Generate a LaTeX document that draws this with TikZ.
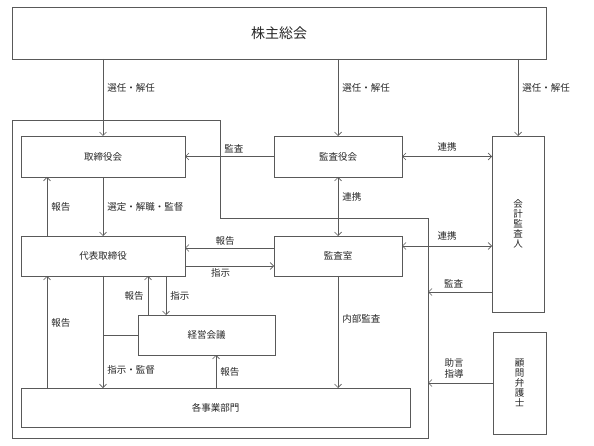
\documentclass[tikz,border=0pt]{standalone}
\usepackage{fontspec}
\setmainfont{Noto Sans CJK JP}
\usetikzlibrary{arrows.meta}

\tikzset{
    box/.style={draw=black!65, line width=0.7pt, rectangle, inner sep=0pt, outer sep=0pt,
        text=black!85, font=\fontsize{9.5}{11}\selectfont},
    link/.style={draw=black!65, line width=0.7pt},
    arr/.style={link, -{Straight Barb[length=3.5pt,width=7pt]}},
    both/.style={link, {Straight Barb[length=3.5pt,width=7pt]}-{Straight Barb[length=3.5pt,width=7pt]}},
    lbl/.style={text=black!85, font=\fontsize{9.5}{11}\selectfont, inner sep=1pt}
}

\begin{document}
\begin{tikzpicture}[x=1pt, y=-1pt]
    \useasboundingbox (0,0) rectangle (594,446);

    % draw company frame
    \draw[link] (12,120) -- (220,120) -- (220,218) -- (428,218) -- (428,438) -- (12,438) -- cycle;
    \coordinate (frameA) at (428,292);
    \coordinate (frameB) at (428,383);

    % draw boxes
    \node[box, minimum width=534pt, minimum height=52pt, font=\fontsize{14}{16}\selectfont] (kabu) at (279,33) {株主総会};
    \node[box, minimum width=164pt, minimum height=41pt] (tori) at (103,156.5) {取締役会};
    \node[box, minimum width=128pt, minimum height=41pt] (kansayaku) at (338,156.5) {監査役会};
    \node[box, minimum width=52pt, minimum height=176pt, align=center, font=\fontsize{9.5}{10}\selectfont] (kaikei) at (518,224) {会\\計\\監\\査\\人};
    \node[box, minimum width=164pt, minimum height=40pt] (daihyo) at (103,256) {代表取締役};
    \node[box, minimum width=128pt, minimum height=40pt] (kansashitsu) at (338,256) {監査室};
    \node[box, minimum width=137pt, minimum height=40pt] (keiei) at (206.5,335) {経営会議};
    \node[box, minimum width=389pt, minimum height=39pt] (jigyo) at (215.5,407.5) {各事業部門};
    \node[box, minimum width=53pt, minimum height=102pt, align=center, font=\fontsize{9.5}{10}\selectfont] (komon) at (519.5,383) {顧\\問\\弁\\護\\士};

    % draw arrows from the top
    \draw[arr] (kabu.south -| tori.north) -- (tori.north) node[lbl, right=3pt, pos=0.38] {選任・解任};
    \draw[arr] (kabu.south -| kansayaku.north) -- (kansayaku.north) node[lbl, right=3pt, pos=0.38] {選任・解任};
    \draw[arr] (kabu.south -| kaikei.north) -- (kaikei.north) node[lbl, right=3pt, pos=0.38] {選任・解任};

    % draw audit links
    \draw[arr] (kansayaku.west) -- (tori.east) node[lbl, above=2pt, pos=0.45] {監査};
    \draw[both] (kansayaku.east) -- (kansayaku.east -| kaikei.west) node[lbl, above=4pt, midway] {連携};
    \draw[both] (kansayaku.south) -- (kansashitsu.north) node[lbl, right=3pt, pos=0.34] {連携};
    \draw[both] ([yshift=-10pt]kansashitsu.north east) -- ([yshift=-10pt]kansashitsu.north east -| kaikei.west) node[lbl, above=4pt, midway] {連携};
    \draw[arr] (kaikei.west |- frameA) -- (frameA) node[lbl, above=3pt, pos=0.6] {監査};
    \draw[arr] (komon.west |- frameB) -- (frameB) node[lbl, above=3pt, pos=0.6, align=center] {助言\\指導};

    % draw board links
    \draw[arr] (tori.south) -- (daihyo.north) node[lbl, right=3pt, midway] {選定・解職・監督};
    \draw[arr] (daihyo.north -| 47,0) -- (tori.south -| 47,0) node[lbl, right=3pt, midway] {報告};
    \draw[arr] ([yshift=-12pt]kansashitsu.north west) -- ([yshift=-12pt]kansashitsu.north west -| daihyo.east) node[lbl, above=1pt, pos=0.55] {報告};
    \draw[arr] ([yshift=10pt]daihyo.south east) -- ([yshift=10pt]daihyo.south east -| kansashitsu.west) node[lbl, below=1pt, pos=0.4] {指示};

    % draw lower links
    \draw[arr] (kansashitsu.south) -- (jigyo.north -| kansashitsu.south) node[lbl, right=3pt, pos=0.38] {内部監査};
    \draw[arr] (daihyo.south) -- (jigyo.north -| daihyo.south) node[lbl, right=3pt, pos=0.84] {指示・監督};
    \draw[link] (keiei.west) -- (keiei.west -| daihyo.south);
    \draw[arr] (keiei.north -| 148,0) -- (daihyo.south -| 148,0) node[lbl, left=3pt, midway] {報告};
    \draw[arr] (daihyo.south -| 166,0) -- (keiei.north -| 166,0) node[lbl, right=3pt, midway] {指示};
    \draw[arr] (jigyo.north -| 216,0) -- (keiei.south -| 216,0) node[lbl, right=3pt, midway] {報告};
    \draw[arr] (jigyo.north -| 47,0) -- (daihyo.south -| 47,0) node[lbl, right=3pt, pos=0.58] {報告};
\end{tikzpicture}
\end{document}
